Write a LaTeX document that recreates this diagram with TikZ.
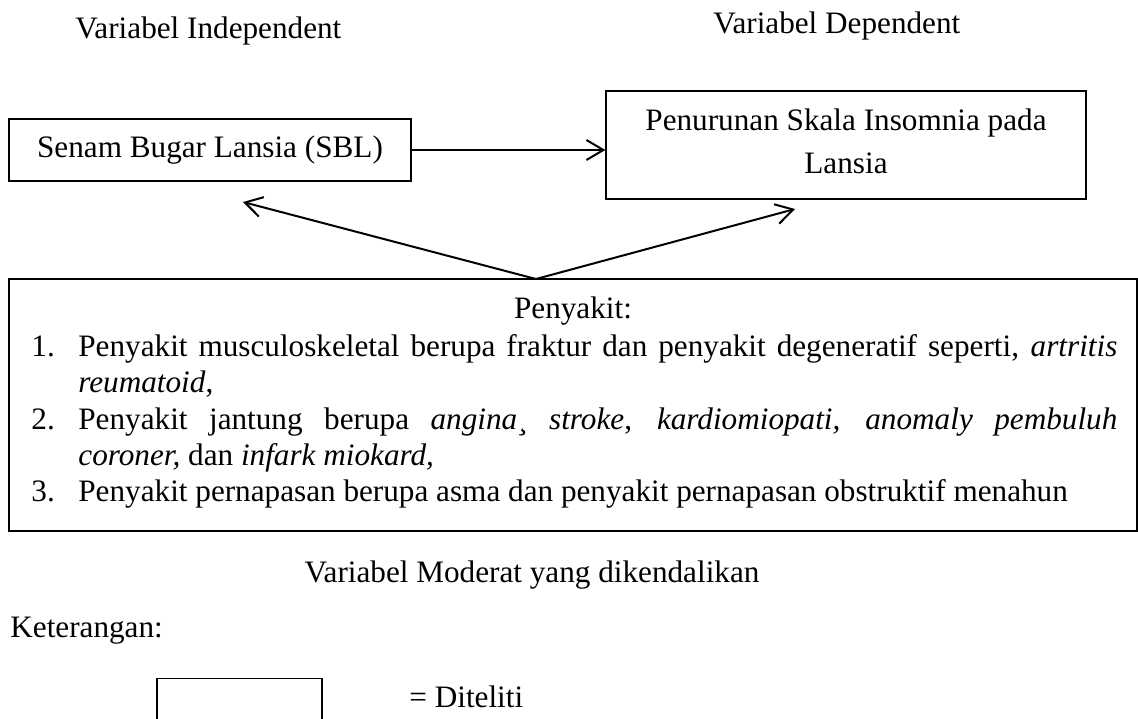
\documentclass[tikz,border=0pt]{standalone}
\usepackage{fontspec}
\setmainfont{Liberation Serif}
\usetikzlibrary{arrows.meta}
\begin{document}
\begin{tikzpicture}[x=0.5pt,y=-0.5pt,
  txt/.style={font=\fontsize{15.6}{18}\selectfont, inner sep=0pt},
  boxnode/.style={draw, line width=0.6pt, inner sep=0pt, font=\fontsize{15.6}{21.5}\selectfont, align=center},
  arr/.style={line width=1pt, -{Straight Barb[length=8.5pt,width=10pt]}}]
\useasboundingbox (0,0) rectangle (1138,718);
% headings
\node[txt, anchor=base west] (hind) at (75,38) {Variabel Independent};
\node[txt, anchor=base west] (hdep) at (713,33) {Variabel Dependent};
% boxes
\node[boxnode, minimum width=201pt, minimum height=31pt] (sbl) at (210,150) {Senam Bugar Lansia (SBL)};
\node[boxnode, minimum width=240pt, minimum height=54pt] (dep) at (846,145) {Penurunan Skala Insomnia pada\\Lansia\vphantom{y}};
\draw[arr] (sbl.east) -- (sbl.east -| dep.west);
% moderator box
\node[draw, line width=0.6pt, inner sep=0pt, minimum width=564pt, minimum height=126pt] (mod) at (573,405) {};
\coordinate (apex) at (536,279);
\coordinate (tipL) at (243,202);
\coordinate (tipR) at (795,209);
\draw[arr] (apex) -- (tipL);
\draw[arr] (apex) -- (tipR);
\node[txt, anchor=base] (pen) at (573,318) {Penyakit:};
\node[txt, anchor=base west] (n1) at (31,356) {1.};
\node[txt, anchor=base west] (l1a) at (78,356) {\makebox[519.5pt][s]{Penyakit musculoskeletal berupa fraktur dan penyakit degeneratif seperti, \textit{artritis}}};
\node[txt, anchor=base west] (l1b) at (78,392) {\textit{reumatoid},};
\node[txt, anchor=base west] (n2) at (31,429) {2.};
\node[txt, anchor=base west] (l2a) at (78,429) {\makebox[519.5pt][s]{Penyakit jantung berupa \textit{angina¸} \textit{stroke}, \textit{kardiomiopati, anomaly pembuluh}}};
\node[txt, anchor=base west] (l2b) at (78,465) {\textit{coroner,} dan \textit{infark miokard,}};
\node[txt, anchor=base west] (n3) at (31,501) {3.};
\node[txt, anchor=base west] (l3) at (78,501) {Penyakit pernapasan berupa asma dan penyakit pernapasan obstruktif menahun};
% caption
\node[txt, anchor=base] (cap) at (532,582) {Variabel Moderat yang dikendalikan};
% legend
\node[txt, anchor=base west] (ket) at (10,637) {Keterangan:};
\node[draw, line width=0.6pt, inner sep=0pt, minimum width=82.5pt, minimum height=40pt, anchor=north] (leg) at (239.5,678) {};
\node[txt, anchor=base west] (dit) at (409,707) {= Diteliti};
\end{tikzpicture}
\end{document}
